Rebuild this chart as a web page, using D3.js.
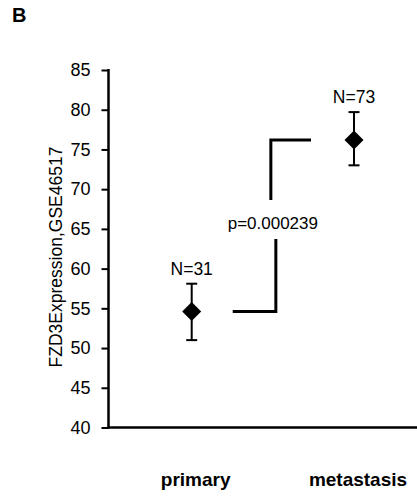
<!DOCTYPE html>
<html>
<head>
<meta charset="utf-8">
<script src="https://cdn.jsdelivr.net/npm/d3@7"></script>
<style>
  html, body { margin: 0; padding: 0; background: #fff; }
  svg { display: block; font-family: "Liberation Sans", Arial, sans-serif; }
</style>
</head>
<body>
<svg id="chart" width="417" height="498"></svg>
<script>
// ---- data ----
const categories = ["primary", "metastasis"];
const means = [54.6, 76.2];
const upper = [58.1, 79.7];
const lower = [51.0, 73.0];
const nLabels = ["N=31", "N=73"];
const yTicks = [40, 45, 50, 55, 60, 65, 70, 75, 80, 85];
const pLabel = "p=0.000239";
const yTitle = "FZD3Expression,GSE46517";
const panelLabel = "B";

// ---- layout ----
const svg = d3.select("#chart");
const axisX = 108.5, axisY = 427.5, topY = 70, rightX = 417;

const y = d3.scaleLinear().domain([40, 85]).range([axisY, topY]);
const x = d3.scalePoint().domain(categories).range([191.7, 354]);

// panel label
svg.append("text").attr("x", 12).attr("y", 22)
  .attr("font-size", 20).attr("font-weight", "bold").text(panelLabel);

// y axis
const yAxis = d3.axisLeft(y).tickValues(yTicks).tickSize(7).tickPadding(11).tickFormat(d3.format("d"));
const gy = svg.append("g").attr("transform", `translate(${axisX},0)`).call(yAxis);
gy.select(".domain").remove();
gy.selectAll(".tick line").attr("stroke", "#000").attr("stroke-width", 2);
gy.selectAll(".tick text").attr("font-size", 18).attr("fill", "#000")
  .attr("font-family", "'Liberation Sans', Arial, sans-serif");
svg.append("line").attr("x1", axisX).attr("x2", axisX).attr("y1", topY - 1).attr("y2", axisY + 1)
  .attr("stroke", "#000").attr("stroke-width", 2.5);

// x axis line
svg.append("line").attr("x1", axisX - 1).attr("x2", rightX).attr("y1", axisY).attr("y2", axisY)
  .attr("stroke", "#000").attr("stroke-width", 2.5);

// x category labels
svg.selectAll("text.xlab").data(categories).enter().append("text")
  .attr("class", "xlab")
  .attr("x", d => x(d) + 4).attr("y", 486)
  .attr("text-anchor", "middle").attr("font-size", 19).attr("font-weight", "bold")
  .text(d => d);

// y title
svg.append("text")
  .attr("transform", `translate(61.5,257) rotate(-90)`)
  .attr("text-anchor", "middle").attr("font-size", 17.5)
  .text(yTitle);

// error bars
const capW = 5.5;
const eb = svg.append("g");
categories.forEach((c, i) => {
  const cx = x(c);
  eb.append("line").attr("x1", cx).attr("x2", cx).attr("y1", y(upper[i])).attr("y2", y(lower[i]))
    .attr("stroke", "#000").attr("stroke-width", 2);
  [upper[i], lower[i]].forEach(v => {
    eb.append("line").attr("x1", cx - capW).attr("x2", cx + capW).attr("y1", y(v)).attr("y2", y(v))
      .attr("stroke", "#000").attr("stroke-width", 2);
  });
});

// diamonds
const diamond = d3.symbol().type(d3.symbolDiamond2).size(180);
svg.selectAll("path.pt").data(categories).enter().append("path")
  .attr("class", "pt")
  .attr("transform", (d, i) => `translate(${x(d)},${y(means[i])}) rotate(0)`)
  .attr("d", d => {
    const h = 9.5;
    return `M0,${-h}L${h},0L0,${h}L${-h},0Z`;
  })
  .attr("fill", "#000");

// N labels
svg.selectAll("text.nlab").data(nLabels).enter().append("text")
  .attr("class", "nlab")
  .attr("x", (d, i) => x(categories[i]))
  .attr("y", (d, i) => y(upper[i]) - 9)
  .attr("text-anchor", "middle").attr("font-size", 17.5)
  .text(d => d);

// significance bracket
const x0 = x(categories[0]), x1 = x(categories[1]);
const y0 = y(means[0]), y1 = y(means[1]);
const mid = (x0 + x1) / 2;
const pY = 223;
const br = svg.append("g").attr("fill", "none").attr("stroke", "#000").attr("stroke-width", 3);
br.append("path").attr("d", `M${x0 + 41},${y0}H${mid + 3}V${pY + 16}`);
br.append("path").attr("d", `M${x1 - 43},${y1}H${mid - 2}V${pY - 23}`);
svg.append("text").attr("x", mid).attr("y", pY + 6)
  .attr("text-anchor", "middle").attr("font-size", 17).text(pLabel);
</script>
</body>
</html>
